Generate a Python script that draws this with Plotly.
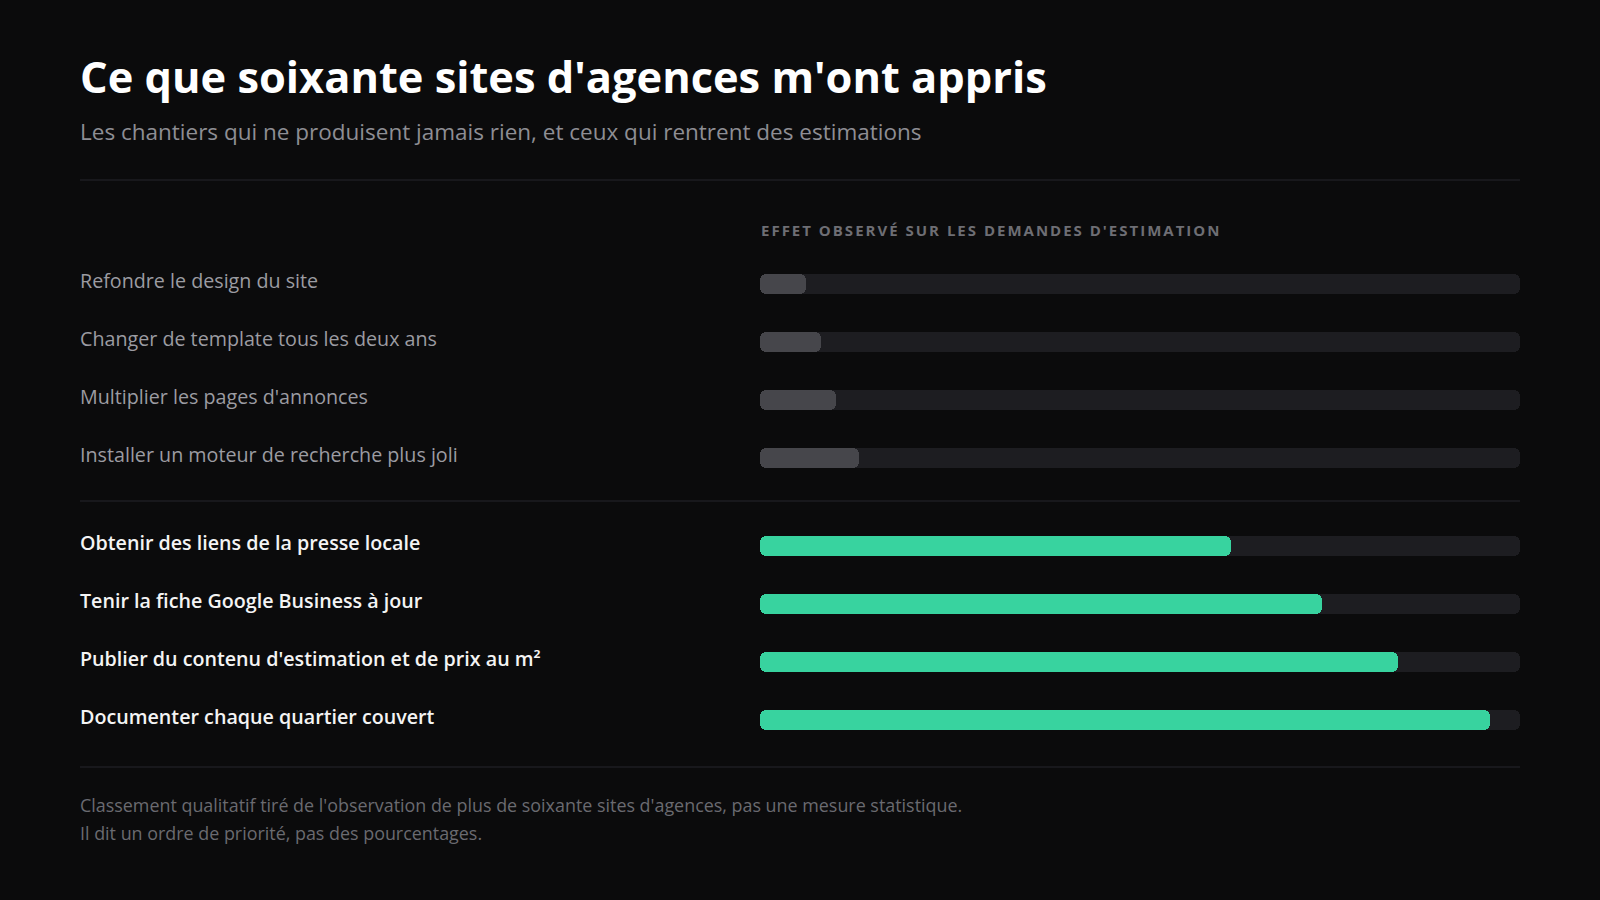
import plotly.graph_objects as go

# ---- data ----
title = "Ce que soixante sites d'agences m'ont appris"
subtitle = "Les chantiers qui ne produisent jamais rien, et ceux qui rentrent des estimations"
header = "EFFET OBSERVÉ SUR LES DEMANDES D'ESTIMATION"
low_labels = [
    "Refondre le design du site",
    "Changer de template tous les deux ans",
    "Multiplier les pages d'annonces",
    "Installer un moteur de recherche plus joli",
]
low_values = [6, 8, 10, 13]
high_labels = [
    "Obtenir des liens de la presse locale",
    "Tenir la fiche Google Business à jour",
    "Publier du contenu d'estimation et de prix au m²",
    "Documenter chaque quartier couvert",
]
high_values = [62, 74, 84, 96]
footer_lines = [
    "Classement qualitatif tiré de l'observation de plus de soixante sites d'agences, pas une mesure statistique.",
    "Il dit un ordre de priorité, pas des pourcentages.",
]
max_value = 100

# ---- layout helpers ----
W, H = 1600, 900
BG = "#0b0b0c"
TRACK = "#1d1d21"
GRAY_BAR = "#46464b"
GREEN = "#38d39f"
FONT = "Open Sans"
RADIUS = 6
BAR_H = 20


def yp(pixel_y):
    """convert a top-down pixel row into the (bottom-up) y data coordinate"""
    return H - pixel_y


row_step = 58
low_start = 284
high_start = low_start + 4 * row_step + 30
low_y = [yp(low_start + i * row_step) for i in range(len(low_values))]
high_y = [yp(high_start + i * row_step) for i in range(len(high_values))]
all_y = low_y + high_y

fig = go.Figure()


def add_bars(values, ys, color, names, hover=True):
    if hover:
        hv = dict(customdata=names, hovertemplate="%{customdata}<extra></extra>")
    else:
        hv = dict(hoverinfo="skip")
    fig.add_trace(go.Bar(
        x=values, y=ys, base=[0] * len(values), orientation="h", width=BAR_H, showlegend=False,
        marker=dict(color=color, line=dict(width=0), cornerradius=RADIUS), **hv,
    ))


add_bars([max_value] * len(all_y), all_y, TRACK, low_labels + high_labels, hover=False)
add_bars(low_values, low_y, GRAY_BAR, low_labels)
add_bars(high_values, high_y, GREEN, high_labels)


def px(xp):
    return xp / W


LEFT = 78
ann = []
ann.append(dict(text=title, x=px(LEFT), y=yp(76), xref="paper", yref="y", xanchor="left", yanchor="middle",
                showarrow=False, font=dict(family=FONT, size=43.4, color="#ffffff", weight=700)))
ann.append(dict(text=subtitle, x=px(LEFT), y=yp(131), xref="paper", yref="y", xanchor="left", yanchor="middle",
                showarrow=False, font=dict(family=FONT, size=22.5, color="#8e8e94")))
ann.append(dict(text=header, x=px(759), y=yp(230), xref="paper", yref="y", xanchor="left", yanchor="middle",
                align="left", showarrow=False, font=dict(family=FONT, size=15, color="#6e6e74", weight=700)))
for lab, yy in zip(low_labels, low_y):
    ann.append(dict(text=lab, x=px(LEFT), y=yy + 4, xref="paper", yref="y", xanchor="left", yanchor="middle",
                    showarrow=False, font=dict(family=FONT, size=19.7, color="#9c9ca2")))
for lab, yy in zip(high_labels, high_y):
    ann.append(dict(text=lab, x=px(LEFT), y=yy + 4, xref="paper", yref="y", xanchor="left", yanchor="middle",
                    showarrow=False, font=dict(family=FONT, size=19.7, color="#f4f4f4", weight=600)))
for i, line in enumerate(footer_lines):
    ann.append(dict(text=line, x=px(LEFT), y=yp(805 + i * 28), xref="paper", yref="y", xanchor="left",
                    yanchor="middle", showarrow=False, font=dict(family=FONT, size=17.9, color="#6a6a70")))

shapes = []
for yy in [180, 501, 767]:
    shapes.append(dict(type="line", xref="paper", yref="y", x0=px(80), x1=px(1520), y0=yp(yy), y1=yp(yy),
                       line=dict(color="#1e1e22", width=1.5)))

fig.update_layout(
    width=W, height=H,
    margin=dict(l=0, r=0, t=0, b=0),
    paper_bgcolor=BG, plot_bgcolor=BG,
    barmode="overlay", bargap=0, barcornerradius=RADIUS,
    xaxis=dict(domain=[760 / W, 1520 / W], range=[0, max_value], visible=False, fixedrange=True),
    yaxis=dict(domain=[0, 1], range=[0, H], visible=False, fixedrange=True),
    annotations=ann, shapes=shapes,
    font=dict(family=FONT),
    hoverlabel=dict(font=dict(family=FONT)),
)

post_js = """
document.body.style.margin = '0';
document.body.style.background = '#0b0b0c';
var gd = document.getElementById('{plot_id}');
gd.querySelectorAll('.annotation-text').forEach(function (t) {
  if (t.textContent.indexOf('EFFET') === 0) { t.style.letterSpacing = '2px'; }
});
"""

fig.write_html("out.html", post_script=post_js, config={"displayModeBar": False})
